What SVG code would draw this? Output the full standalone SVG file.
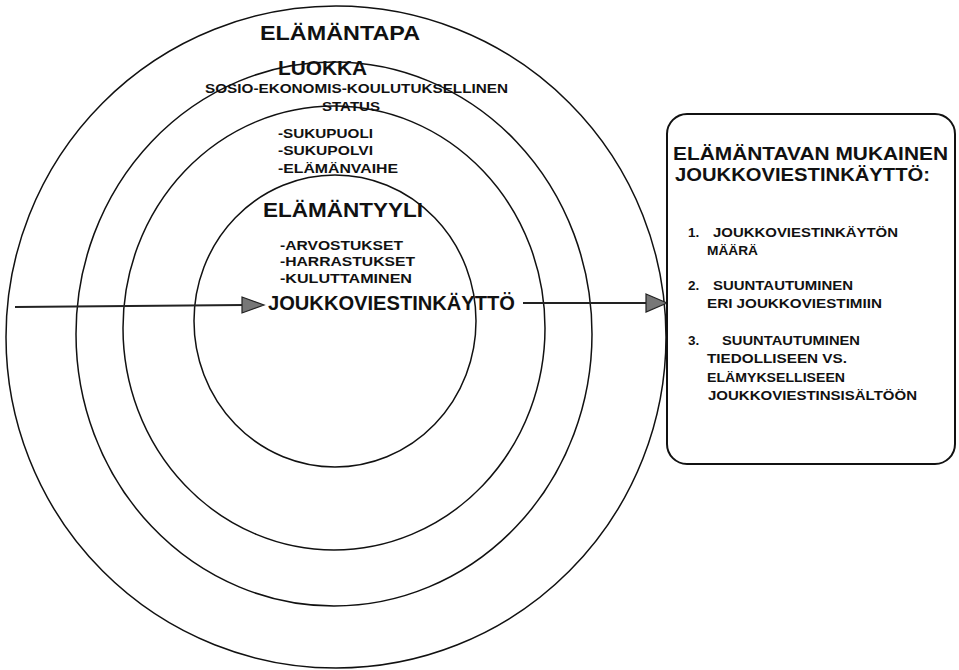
<svg xmlns="http://www.w3.org/2000/svg" width="959" height="670" viewBox="0 0 959 670">
<defs>
<style>
.ring{fill:none;stroke:#111;stroke-width:1.5}
.box{fill:#fff;stroke:#111;stroke-width:2}
.t{font-family:"Liberation Sans",Arial,sans-serif;font-weight:bold;fill:#111}
.conn{stroke:#222;stroke-width:2.2;fill:none}
.head{fill:#777;stroke:#222;stroke-width:1.2;stroke-linejoin:miter}
</style>
</defs>
<rect width="959" height="670" fill="#fff"/>
<g id="elamantapa">
<ellipse class="ring" cx="336" cy="337" rx="330" ry="331"/>
<text class="t" x="260" y="40" font-size="21" textLength="160" lengthAdjust="spacingAndGlyphs">ELÄMÄNTAPA</text>
</g>
<g id="luokka">
<ellipse class="ring" cx="334" cy="334" rx="258" ry="272"/>
<text class="t" x="278" y="75" font-size="21" textLength="89" lengthAdjust="spacingAndGlyphs">LUOKKA</text>
<text class="t" x="205" y="93" font-size="13.5" textLength="303" lengthAdjust="spacingAndGlyphs">SOSIO-EKONOMIS-KOULUTUKSELLINEN</text>
<text class="t" x="322" y="111" font-size="13" textLength="58" lengthAdjust="spacingAndGlyphs">STATUS</text>
</g>
<g id="demografia">
<ellipse class="ring" cx="334" cy="328" rx="211" ry="222"/>
<text class="t" x="278" y="138" font-size="13.5" textLength="95" lengthAdjust="spacingAndGlyphs">-SUKUPUOLI</text>
<text class="t" x="278" y="155" font-size="13.5" textLength="95" lengthAdjust="spacingAndGlyphs">-SUKUPOLVI</text>
<text class="t" x="278" y="173" font-size="13.5" textLength="120" lengthAdjust="spacingAndGlyphs">-ELÄMÄNVAIHE</text>
</g>
<g id="elamantyyli">
<ellipse class="ring" cx="335" cy="321" rx="141" ry="146"/>
<text class="t" x="263" y="217" font-size="21" textLength="160" lengthAdjust="spacingAndGlyphs">ELÄMÄNTYYLI</text>
<text class="t" x="280" y="250" font-size="13.5" textLength="123" lengthAdjust="spacingAndGlyphs">-ARVOSTUKSET</text>
<text class="t" x="280" y="266" font-size="13.5" textLength="135" lengthAdjust="spacingAndGlyphs">-HARRASTUKSET</text>
<text class="t" x="280" y="283" font-size="13.5" textLength="132" lengthAdjust="spacingAndGlyphs">-KULUTTAMINEN</text>
</g>
<g id="joukkoviestinkaytto">
<text class="t" x="268" y="310" font-size="21" textLength="247" lengthAdjust="spacingAndGlyphs">JOUKKOVIESTINKÄYTTÖ</text>
</g>
<g id="connectors">
<line class="conn" x1="15" y1="307" x2="244" y2="305"/>
<polygon class="head" points="242,297 264,305 242,313"/>
<line class="conn" x1="523" y1="303" x2="648" y2="303"/>
<polygon class="head" points="646,294 667,303 646,312"/>
</g>
<g id="tulos">
<rect class="box" x="667" y="114" width="288" height="350" rx="20" ry="20"/>
<text class="t" x="673" y="160" font-size="17.5" textLength="275" lengthAdjust="spacingAndGlyphs">ELÄMÄNTAVAN MUKAINEN</text>
<text class="t" x="675" y="181" font-size="17.5" textLength="255" lengthAdjust="spacingAndGlyphs">JOUKKOVIESTINKÄYTTÖ:</text>
<text class="t" font-size="13.5"><tspan x="688" y="237">1.</tspan><tspan x="713" y="237" textLength="185" lengthAdjust="spacingAndGlyphs">JOUKKOVIESTINKÄYTÖN</tspan></text>
<text class="t" x="707" y="255" font-size="13.5" textLength="51" lengthAdjust="spacingAndGlyphs">MÄÄRÄ</text>
<text class="t" font-size="13.5"><tspan x="688" y="290">2.</tspan><tspan x="713" y="290" textLength="140" lengthAdjust="spacingAndGlyphs">SUUNTAUTUMINEN</tspan></text>
<text class="t" x="707" y="308" font-size="13.5" textLength="175" lengthAdjust="spacingAndGlyphs">ERI JOUKKOVIESTIMIIN</text>
<text class="t" font-size="13.5"><tspan x="688" y="345">3.</tspan><tspan x="722" y="345" textLength="138" lengthAdjust="spacingAndGlyphs">SUUNTAUTUMINEN</tspan></text>
<text class="t" x="707" y="363" font-size="13.5" textLength="140" lengthAdjust="spacingAndGlyphs">TIEDOLLISEEN VS.</text>
<text class="t" x="707" y="382" font-size="13.5" textLength="138" lengthAdjust="spacingAndGlyphs">ELÄMYKSELLISEEN</text>
<text class="t" x="708" y="400" font-size="13.5" textLength="209" lengthAdjust="spacingAndGlyphs">JOUKKOVIESTINSISÄLTÖÖN</text>
</g>
</svg>
